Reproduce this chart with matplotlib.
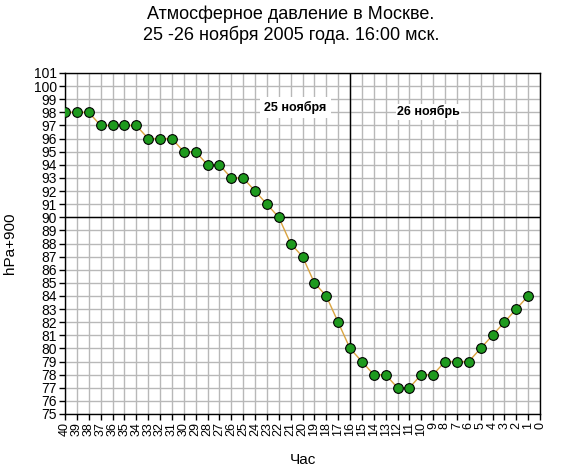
import matplotlib
matplotlib.use("Agg")
import matplotlib.pyplot as plt

# Часы до 16:00 26 ноября и давление (hPa + 900)
hours = list(range(40, 0, -1))
pressure = [98, 98, 98, 97, 97, 97, 97, 96, 96, 96,
            95, 95, 94, 94, 93, 93, 92, 91, 90, 88,
            87, 85, 84, 82, 80, 79, 78, 78, 77, 77,
            78, 78, 79, 79, 79, 80, 81, 82, 83, 84]
x_ticks = list(range(40, -1, -1))
y_ticks = list(range(75, 102))
day_labels = ["25 ноября", "26 ноябрь"]

plt.rcParams['font.family'] = ['Liberation Sans', 'DejaVu Sans']

fig = plt.figure(figsize=(5.82, 4.72), dpi=100)
ax = fig.add_axes([65 / 582, 1 - 414 / 472, 475 / 582, 341 / 472])

ax.set_xlim(40, 0)
ax.set_ylim(75, 101)
ax.set_xticks(x_ticks)
ax.set_yticks(y_ticks)
ax.set_xticklabels([str(h) for h in x_ticks], rotation=90, fontsize=9)
ax.set_yticklabels([str(v) for v in y_ticks], fontsize=10)
ax.tick_params(direction='out', length=4, width=1, pad=2, color='black')
ax.grid(True, color='#b8b8b8', linewidth=1)
ax.set_axisbelow(True)
for s in ax.spines.values():
    s.set_color('black')
    s.set_linewidth(1)

# Разделители: 16:00 и 990 гПа
ax.axvline(16, color='black', linewidth=1, zorder=2)
ax.axhline(90, color='black', linewidth=1, zorder=2)

ax.plot(hours, pressure, color='#d9a441', linewidth=1, zorder=3,
        marker='o', markersize=7, markerfacecolor='#1e9a1e',
        markeredgecolor='black', markeredgewidth=0.8)

ax.text(20.6, 98.35, day_labels[0], fontsize=9, fontweight='bold', ha='center', va='center',
        bbox=dict(facecolor='white', edgecolor='none', pad=3), zorder=4)
ax.text(9.4, 98.05, day_labels[1], fontsize=9, fontweight='bold', ha='center', va='center',
        bbox=dict(facecolor='white', edgecolor='none', pad=1), zorder=4)

fig.text(0.5, 1 - 14 / 472, "Атмосферное давление в Москве.", fontsize=13, ha='center', va='center')
fig.text(0.5, 1 - 35 / 472, "25 -26 ноября 2005 года. 16:00 мск.", fontsize=13, ha='center', va='center')
ax.set_ylabel("hPa+900", fontsize=11, labelpad=12)
ax.set_xlabel("Час", fontsize=11, labelpad=12)

fig.savefig("out.png", dpi=100)
